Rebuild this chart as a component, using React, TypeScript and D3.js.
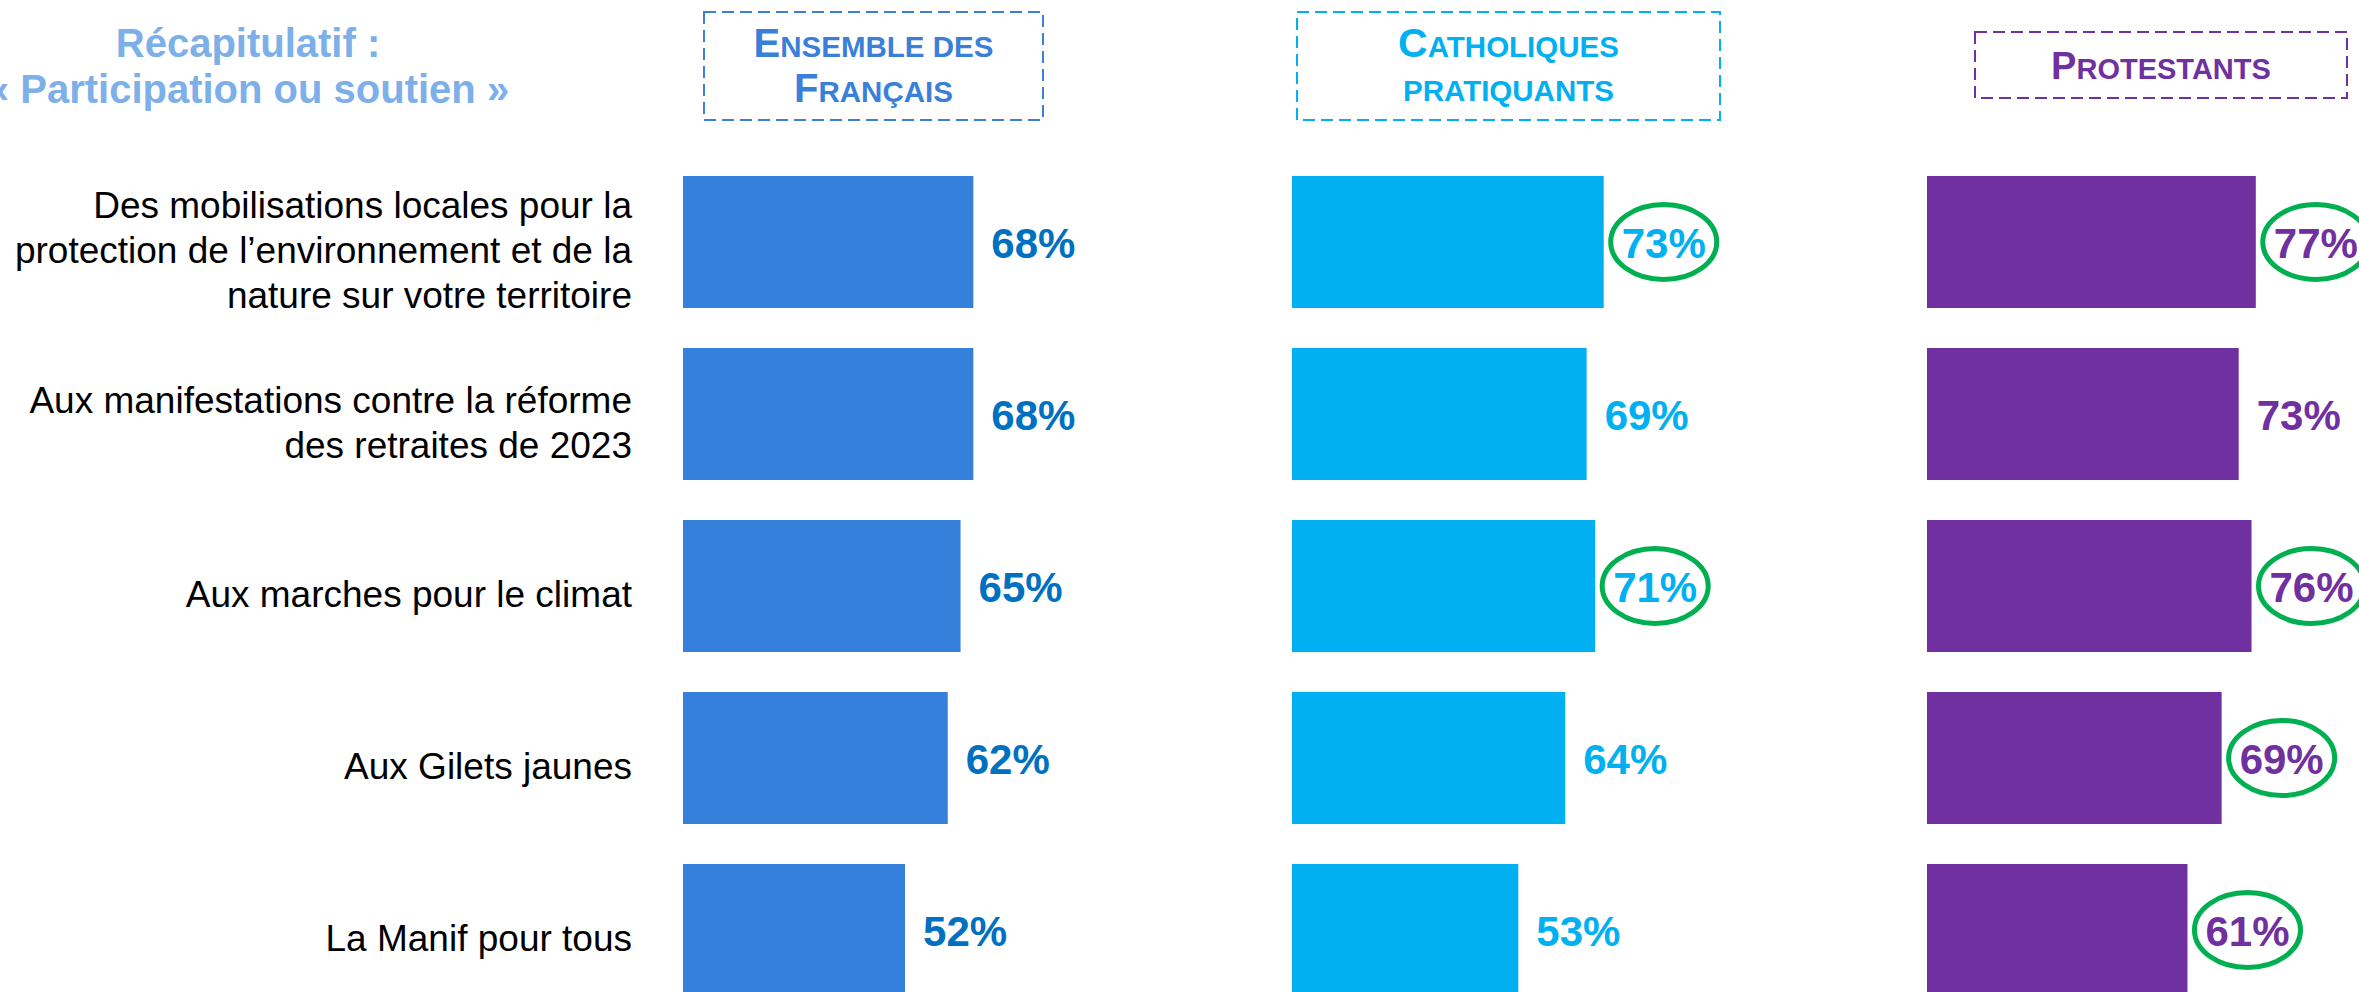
import * as d3 from "d3";

// rows (category labels, already broken into lines)
const categoryLines = [
  ["Des mobilisations locales pour la", "protection de l\u2019environnement et de la", "nature sur votre territoire"],
  ["Aux manifestations contre la réforme", "des retraites de 2023"],
  ["Aux marches pour le climat"],
  ["Aux Gilets jaunes"],
  ["La Manif pour tous"],
];
const categories = categoryLines.map((l) => l.join(" "));

const ensembleValues = [68, 68, 65, 62, 52];
const catholiquesValues = [73, 69, 71, 64, 53];
const protestantsValues = [77, 73, 76, 69, 61];

// values circled in green
const ensembleCircled = [false, false, false, false, false];
const catholiquesCircled = [true, false, true, false, false];
const protestantsCircled = [true, false, true, true, true];

// header lines, [big first letter, rest in small caps]
const ensembleHeader = [["E", "NSEMBLE DES"], ["F", "RANÇAIS"]];
const catholiquesHeader = [["C", "ATHOLIQUES"], ["", "PRATIQUANTS"]];
const protestantsHeader = [["P", "ROTESTANTS"]];

const titleLines = ["Récapitulatif :", "\u00AB Participation ou soutien \u00BB"];

const W = 2359;
const H = 992;
const FONT = "'Liberation Sans', Arial, Helvetica, sans-serif";

const panels = [
  {
    values: ensembleValues, circled: ensembleCircled, header: ensembleHeader,
    x0: 683, bar: "#3580DA", text: "#0070C0", stroke: "#3A80D9",
    box: { x: 704, y: 12, w: 339, h: 108 }, big: 40, small: 29.5, baselines: [57, 102],
  },
  {
    values: catholiquesValues, circled: catholiquesCircled, header: catholiquesHeader,
    x0: 1292, bar: "#00B0F0", text: "#00B0F0", stroke: "#00B0F0",
    box: { x: 1297, y: 12, w: 423, h: 108 }, big: 41, small: 29.5, baselines: [57, 101],
  },
  {
    values: protestantsValues, circled: protestantsCircled, header: protestantsHeader,
    x0: 1927, bar: "#7030A0", text: "#7030A0", stroke: "#7030A0",
    box: { x: 1975, y: 32, w: 372, h: 66 }, big: 38, small: 29, baselines: [79],
  },
];

export default function App() {
  const x = d3.scaleLinear().domain([0, 100]).range([0, 427]);
  const y = d3.scaleBand<string>().domain(categories).range([176, 996]).paddingInner(40 / 172).paddingOuter(0);
  const bw = y.bandwidth();
  const labelSize = 42;
  const labelWidth = (2 * 0.556 + 0.889) * labelSize;

  return (
    <svg width={W} height={H} style={{ position: "absolute", left: 0, top: 0, background: "#fff" }} fontFamily={FONT}>
      {/* title */}
      {titleLines.map((t, i) => (
        <text key={t} x={248} y={57 + i * 46} textAnchor="middle" fontSize={40} fontWeight="bold" fill="#7DAFE8">{t}</text>
      ))}

      {/* category labels */}
      {categoryLines.map((lines, i) => {
        const cy = (y(categories[i]) as number) + bw / 2;
        return lines.map((line, j) => (
          <text key={line} x={632} y={cy + 21 + (j - (lines.length - 1) / 2) * 45}
            textAnchor="end" fontSize={37} fill="#000">{line}</text>
        ));
      })}

      {panels.map((p, pi) => (
        <g key={pi}>
          <rect x={p.box.x} y={p.box.y} width={p.box.w} height={p.box.h} fill="none"
            stroke={p.stroke} strokeWidth={2} strokeDasharray="12,6" />
          {p.header.map((seg, li) => (
            <text key={li} x={p.box.x + p.box.w / 2} y={p.baselines[li]} textAnchor="middle"
              fontWeight="bold" fill={p.stroke}>
              {seg[0] && <tspan fontSize={p.big}>{seg[0]}</tspan>}
              <tspan fontSize={p.small}>{seg[1]}</tspan>
            </text>
          ))}
          {p.values.map((v, i) => {
            const top = y(categories[i]) as number;
            const cy = top + bw / 2;
            const lx = p.x0 + x(v) + 18;
            return (
              <g key={i}>
                <rect x={p.x0} y={top} width={x(v)} height={bw} fill={p.bar} />
                <text x={lx} y={cy + 16} fontSize={labelSize} fontWeight="bold" fill={p.text}>{`${v}%`}</text>
                {p.circled[i] && (
                  <ellipse cx={lx + labelWidth / 2} cy={cy} rx={labelWidth / 2 + 11} ry={37.5}
                    fill="none" stroke="#00B050" strokeWidth={5} />
                )}
              </g>
            );
          })}
        </g>
      ))}
    </svg>
  );
}
